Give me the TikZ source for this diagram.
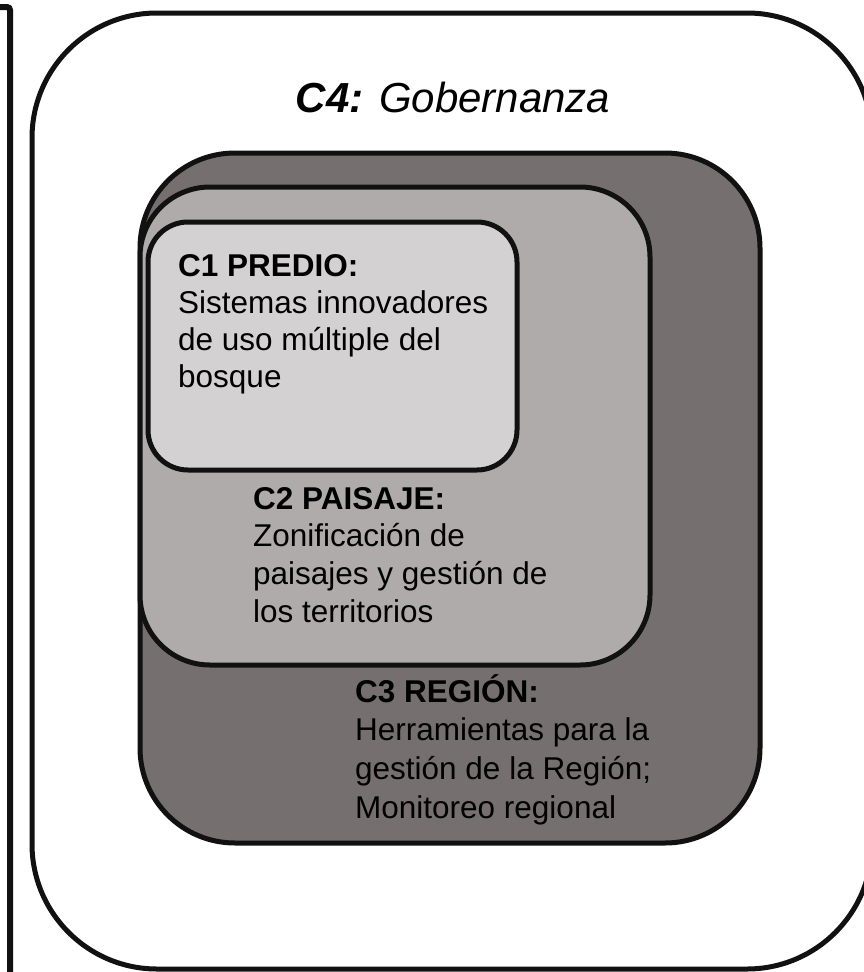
\documentclass[tikz,border=0pt]{standalone}
\usepackage{fontspec}
\setmainfont{Liberation Sans}
\definecolor{linec}{HTML}{111111}
\definecolor{cthree}{HTML}{75706F}
\definecolor{ctwo}{HTML}{AFABAA}
\definecolor{cone}{HTML}{D3D1D2}
\begin{document}
\begin{tikzpicture}[x=1pt,y=-1pt,
  box/.style={draw=linec, line width=5pt, rounded corners=#1, inner sep=0pt, outer sep=0pt, rectangle},
  txt/.style={anchor=base west, inner sep=0pt, font=\fontsize{31.5}{37.5}\selectfont, text=black}]
\useasboundingbox (0,0) rectangle (864,972);
\clip (0,0) rectangle (864,972);
% left frame edge
\node[box=3pt, line width=6pt, minimum width=110pt, minimum height=1093pt] (frame) at (-45,553.5) {};
% C4 outer
\node[box=125pt, fill=white, minimum width=840pt, minimum height=956pt] (c4) at (452,491) {};
\node[anchor=base, inner sep=0pt, font=\fontsize{42}{50}\selectfont] (title) at (453,112) {\textbf{\textit{C4:}} \textit{Gobernanza}};
% C3
\node[box=95pt, fill=cthree, minimum width=620pt, minimum height=690pt] (c3) at (450,498) {};
% C2
\node[box=70pt, fill=ctwo, minimum width=510pt, minimum height=478pt] (c2) at (395,426) {};
% C1
\node[box=40pt, fill=cone, minimum width=369pt, minimum height=248pt] (c1) at (332.5,346) {};
% C1 text
\node[txt] (c1a) at (178,276) {\textbf{C1 PREDIO:}};
\node[txt] (c1b) at (178,313) {Sistemas innovadores};
\node[txt] (c1c) at (178,350) {de uso múltiple del};
\node[txt] (c1d) at (178,387) {bosque};
% C2 text
\node[txt] (c2a) at (253,509) {\textbf{C2 PAISAJE:}};
\node[txt] (c2b) at (253,546) {Zonificación de};
\node[txt] (c2c) at (253,584) {paisajes y gestión de};
\node[txt] (c2d) at (253,622) {los territorios};
% C3 text
\node[txt] (c3a) at (355,702) {\textbf{C3 REGIÓN:}};
\node[txt] (c3b) at (355,740) {Herramientas para la};
\node[txt] (c3c) at (355,779) {gestión de la Región;};
\node[txt] (c3d) at (355,818) {Monitoreo regional};
\end{tikzpicture}
\end{document}
